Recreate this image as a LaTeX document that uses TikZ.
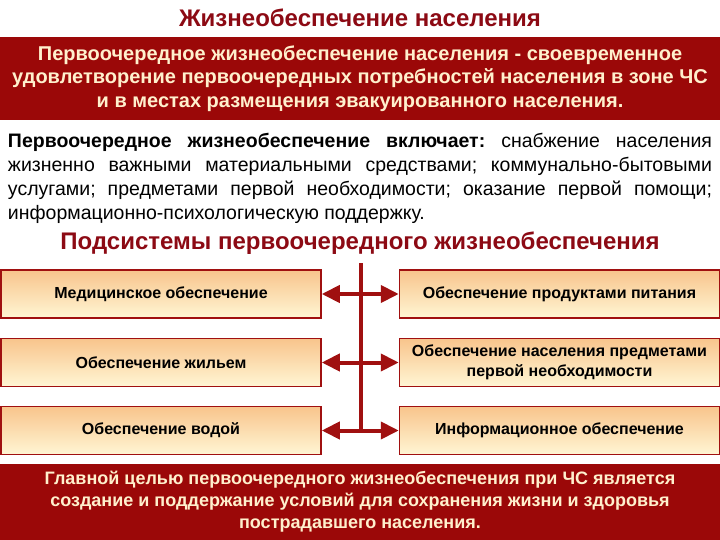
\documentclass[tikz,border=0pt]{standalone}
\usepackage{fontspec}
\setmainfont{Liberation Sans}
\usetikzlibrary{arrows.meta}
\definecolor{bandred}{RGB}{155,8,8}
\definecolor{headred}{RGB}{140,10,20}
\definecolor{boxred}{RGB}{160,16,16}
\definecolor{cream}{RGB}{255,240,205}
\definecolor{boxtop}{RGB}{248,196,140}
\definecolor{boxbot}{RGB}{255,246,212}
\tikzset{
	band/.style={fill=bandred, text=cream, align=center, minimum width=720pt, inner sep=0pt},
	heading/.style={text=headred, font=\bfseries\fontsize{24}{28}\selectfont},
	subsys/.style={draw=boxred, line width=1.5pt, top color=boxtop, bottom color=boxbot,
		minimum width=320pt, minimum height=48pt, align=center, inner sep=0pt,
		font=\bfseries\fontsize{16}{20}\selectfont},
	link/.style={boxred, line width=4pt, {Triangle[length=18pt,width=17pt]}-{Triangle[length=18pt,width=17pt]}}
}
\frenchspacing
\begin{document}
\begin{tikzpicture}[x=1pt, y=-1pt]
	\useasboundingbox (0,0) rectangle (720,540);
	%headings
	\node[heading] (title) at (360, 18){Жизнеобеспечение населения};
	\node[band, minimum height=83pt, font=\bfseries\fontsize{20}{23.5}\selectfont] (defn) at (360, 78.5){Первоочередное жизнеобеспечение населения - своевременное\\удовлетворение первоочередных потребностей населения в зоне ЧС\\и в местах размещения эвакуированного населения.};
	\node[text width=704pt, align=justify, inner sep=0pt, font=\fontsize{19.5}{24}\selectfont] (incl) at (360, 178){\textbf{Первоочередное жизнеобеспечение включает:} снабжение населения\linebreak жизненно важными материальными средствами; коммунально-бытовыми\linebreak услугами; предметами первой необходимости; оказание первой помощи;\linebreak информационно-психологическую поддержку.};
	\node[heading] (subs) at (360, 243){Подсистемы первоочередного жизнеобеспечения};
	
	%subsystems
	\node[subsys] (med) at (161, 294){Медицинское обеспечение};
	\node[subsys] (home) at (161, 362.5){Обеспечение жильем};
	\node[subsys] (water) at (161, 430.5){Обеспечение водой};
	\node[subsys] (food) at (559.5, 294){Обеспечение продуктами питания};
	\node[subsys] (goods) at (559.5, 362.5){Обеспечение населения предметами\\первой необходимости};
	\node[subsys] (info) at (559.5, 430.5){Информационное обеспечение};
	
	%links
	\coordinate (trunk) at (360.5, 263);
	\draw[boxred, line width=4pt] (trunk) -- (trunk |- water.east);
	\draw[link] (med) -- (food);
	\draw[link] (home) -- (goods);
	\draw[link] (water) -- (info);
	
	\node[band, minimum height=76pt, font=\bfseries\fontsize{18}{22}\selectfont] (goal) at (360, 502){Главной целью первоочередного жизнеобеспечения при ЧС является\\создание и поддержание условий для сохранения жизни и здоровья\\пострадавшего населения.};
\end{tikzpicture}
\end{document}
